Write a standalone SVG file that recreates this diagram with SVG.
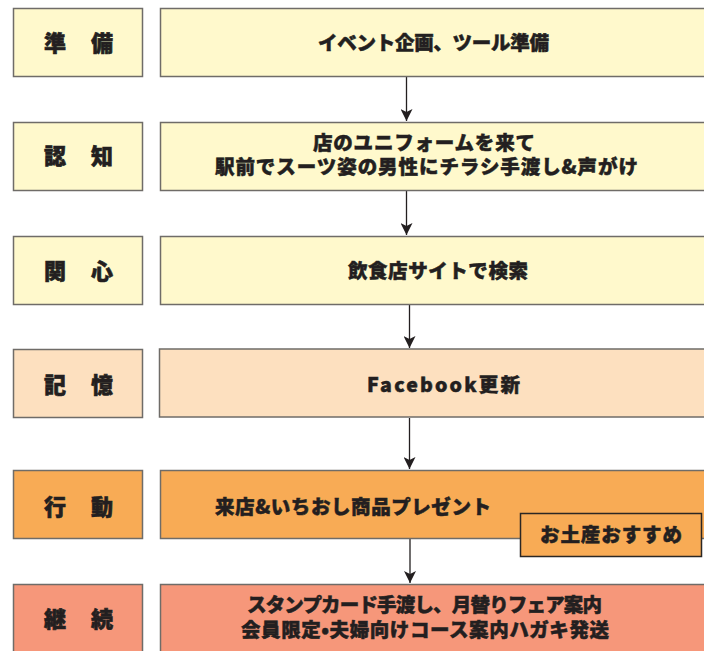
<svg xmlns="http://www.w3.org/2000/svg" width="704" height="651" viewBox="0 0 704 651">
<defs>
<style>
.box{stroke:#6f6c68;stroke-width:1.5}
.y{fill:#fff9cc}.p{fill:#fde0bf}.o{fill:#f8ab55}.s{fill:#f6977a}
.lb{font-family:"Noto Sans CJK JP","Noto Sans",sans-serif;font-weight:900;font-size:22px;fill:#231f20;stroke:#231f20;stroke-width:0.6;text-anchor:middle}
.tx{font-family:"Noto Sans CJK JP","Noto Sans",sans-serif;font-weight:900;font-size:19.5px;fill:#231f20;stroke:#231f20;stroke-width:0.5}
.con{stroke:#231f20;stroke-width:1.3;fill:none}
</style>
<marker id="ah" viewBox="0 0 12 12" refX="12" refY="6" markerWidth="12" markerHeight="12" markerUnits="userSpaceOnUse" orient="auto">
<path d="M0,0 L12,6 L0,12 L3,6 Z" fill="#231f20"/>
</marker>
</defs>
<rect width="704" height="651" fill="#ffffff"/>

<g id="connectors">
<line class="con" x1="406.5" y1="77" x2="406.5" y2="121" marker-end="url(#ah)"/>
<line class="con" x1="406.5" y1="191" x2="406.5" y2="235" marker-end="url(#ah)"/>
<line class="con" x1="409.5" y1="305" x2="409.5" y2="348" marker-end="url(#ah)"/>
<line class="con" x1="409.5" y1="418" x2="409.5" y2="469" marker-end="url(#ah)"/>
<line class="con" x1="410" y1="539" x2="410" y2="583" marker-end="url(#ah)"/>
</g>

<g id="label-junbi">
<rect class="box y" x="13.5" y="8.5" width="129" height="68"/>
<text class="lb" x="55" y="51">準</text><text class="lb" x="102" y="51">備</text>
</g>
<g id="step-junbi">
<rect class="box y" x="160.5" y="8.5" width="546" height="68"/>
<text class="tx" x="318" y="50" textLength="231" lengthAdjust="spacing">イベント企画、ツール準備</text>
</g>

<g id="label-ninchi">
<rect class="box y" x="13.5" y="122.5" width="129" height="68"/>
<text class="lb" x="55" y="164">認</text><text class="lb" x="102" y="164">知</text>
</g>
<g id="step-ninchi">
<rect class="box y" x="160.5" y="122.5" width="546" height="68"/>
<text class="tx" x="313" y="150" textLength="222" lengthAdjust="spacing">店のユニフォームを来て</text>
<text class="tx" x="215" y="174" textLength="423" lengthAdjust="spacing">駅前でスーツ姿の男性にチラシ手渡し&amp;声がけ</text>
</g>

<g id="label-kanshin">
<rect class="box y" x="13.5" y="236.5" width="129" height="68"/>
<text class="lb" x="55" y="279">関</text><text class="lb" x="102" y="279">心</text>
</g>
<g id="step-kanshin">
<rect class="box y" x="160.5" y="236.5" width="546" height="68"/>
<text class="tx" x="348" y="278" textLength="180" lengthAdjust="spacing">飲食店サイトで検索</text>
</g>

<g id="label-kioku">
<rect class="box p" x="13.5" y="349.5" width="129" height="68"/>
<text class="lb" x="55" y="393">記</text><text class="lb" x="102" y="393">憶</text>
</g>
<g id="step-kioku">
<rect class="box p" x="159.5" y="349" width="547" height="68"/>
<text class="tx" x="367" y="392" font-size="22" textLength="153" lengthAdjust="spacing">Facebook更新</text>
</g>

<g id="label-koudou">
<rect class="box o" x="13.5" y="470.5" width="129" height="68"/>
<text class="lb" x="55" y="515">行</text><text class="lb" x="102" y="515">動</text>
</g>
<g id="step-koudou">
<rect class="box o" x="160.5" y="470.5" width="546" height="68"/>
<text class="tx" x="215" y="514" textLength="276" lengthAdjust="spacing">来店&amp;いちおし商品プレゼント</text>
</g>
<g id="step-omiyage">
<rect x="520.5" y="513.5" width="181" height="43" class="o" stroke="#2b2724" stroke-width="1.5"/>
<text class="tx" x="540" y="542" textLength="142" lengthAdjust="spacing">お土産おすすめ</text>
</g>

<g id="label-keizoku">
<rect class="box s" x="13.5" y="584.5" width="129" height="80"/>
<text class="lb" x="55" y="627">継</text><text class="lb" x="102" y="627">続</text>
</g>
<g id="step-keizoku">
<rect class="box s" x="160.5" y="584.5" width="546" height="80"/>
<text class="tx" x="247" y="612" textLength="355" lengthAdjust="spacing">スタンプカード手渡し、月替りフェア案内</text>
<text class="tx" x="241" y="637" textLength="368" lengthAdjust="spacing">会員限定•夫婦向けコース案内ハガキ発送</text>
</g>
</svg>
